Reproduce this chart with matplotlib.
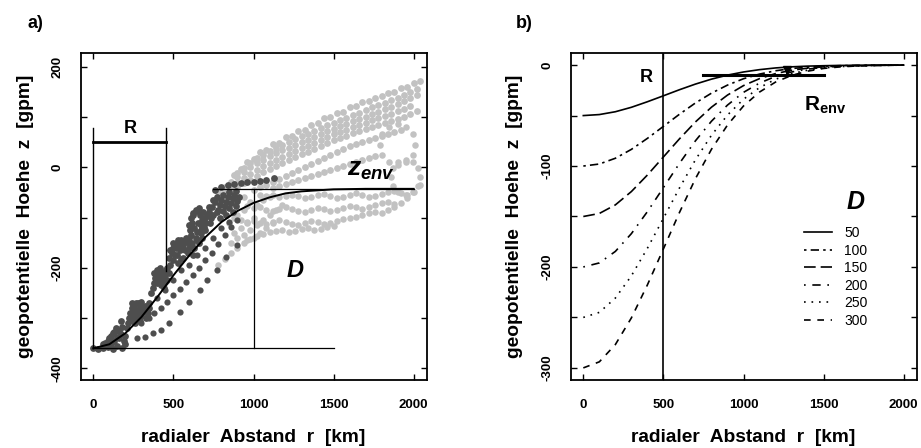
import matplotlib
matplotlib.use("Agg")
import matplotlib.pyplot as plt

plt.rcParams['font.family'] = ['Liberation Sans', 'DejaVu Sans']
plt.rcParams['mathtext.fontset'] = 'custom'
plt.rcParams['mathtext.rm'] = 'Liberation Sans'
plt.rcParams['mathtext.bf'] = 'Liberation Sans:bold'
plt.rcParams['mathtext.it'] = 'Liberation Sans:italic:bold'

# ---------------- panel a : beobachtete Punkte + Profil ----------------
# dunkle Punkte (innerer Bereich)
dark_band_r = [0, 30, 60, 90, 120, 150, 180, 200,
               70, 100, 120, 140, 150, 130, 160, 180, 170, 200, 210,
               230, 240, 250, 260, 270, 280, 290, 300, 310, 320, 250, 240, 280, 300, 330, 340, 350,
               360, 370, 380, 390, 400, 410, 420, 430, 440, 450, 460, 400, 380, 420, 440, 460,
               470, 490, 500, 510, 520, 540, 550, 560, 580, 600, 610, 630, 650, 670, 500, 530, 560, 590, 620,
               600, 610, 625, 645, 665, 680, 690, 670, 650, 630, 615, 700, 720, 700, 730,
               740, 760, 780, 800, 820, 840, 860, 880, 900, 750, 790, 830, 870,
               760, 800, 840, 880, 920, 960, 1000, 1040, 1080, 1130]
dark_band_z = [-360, -362, -360, -358, -362, -355, -360, -352,
               -350, -340, -330, -320, -338, -345, -325, -318, -305, -335, -320,
               -290, -280, -295, -285, -300, -290, -280, -295, -285, -275, -305, -270, -270, -268, -300, -290, -270,
               -250, -240, -230, -222, -215, -210, -220, -212, -208, -215, -225, -230, -210, -235, -240, -200,
               -180, -170, -160, -175, -150, -165, -145, -155, -140, -150, -135, -160, -145, -130, -185, -190, -180, -170, -175,
               -115, -100, -92, -88, -95, -105, -118, -125, -128, -120, -110, -100, -90, -125, -110,
               -80, -70, -85, -65, -78, -60, -72, -55, -68, -95, -100, -95, -90,
               -45, -40, -35, -33, -32, -30, -30, -28, -25, -22]
dark_fill_r = [220, 235, 255, 265, 275, 295, 305, 325, 345, 215, 260, 290,
               90, 110, 130, 160, 175, 190, 110, 60,
               385, 395, 405, 415, 425, 435, 445, 455, 470, 480,
               480, 495, 515, 530, 545, 570, 575, 595, 615, 640, 660, 680, 525, 545, 600,
               605, 620, 640, 660, 685, 695, 710, 725, 735, 655, 675,
               745, 770, 790, 810, 830, 850, 870, 890, 910, 770, 810, 850, 890]
dark_fill_z = [-300, -292, -275, -270, -283, -290, -278, -288, -280, -310, -310, -305,
               -345, -335, -328, -340, -332, -345, -352, -352,
               -220, -205, -225, -200, -230, -220, -228, -205, -210, -195,
               -165, -150, -160, -145, -155, -148, -165, -140, -150, -140, -150, -140, -175, -182, -160,
               -125, -95, -85, -82, -90, -110, -95, -80, -100, -110, -115,
               -65, -60, -75, -55, -70, -50, -62, -48, -60, -90, -88, -82, -78]
dark_track_r = [270, 320, 375, 420, 470, 540, 600, 665, 710, 770, 830, 895,
                380, 420, 460, 500, 540, 580, 620, 660, 700, 740, 780, 820, 860, 900,
                300, 350, 400, 450, 500, 550, 600, 650, 700, 750, 800, 850]
dark_track_z = [-340, -337, -330, -324, -309, -287, -267, -244, -224, -204, -178, -155,
                -290, -280, -268, -255, -242, -228, -215, -200, -185, -170, -152, -135, -118, -105,
                -310, -300, -260, -245, -225, -205, -195, -175, -160, -140, -120, -108]

# helle Punkte (aeusserer Bereich)
light_band_r = ([880 + 40 * i for i in range(30)] + [820 + 40 * i for i in range(31)]
                + [780 + 40 * i for i in range(32)] + [1000 + 40 * i for i in range(24)]
                + [900 + 40 * i for i in range(29)] + [900 + 40 * i for i in range(28)]
                + [1120 + 40 * i for i in range(17)])
light_band_z = [-15, -4, 10, 16, 30, 34, 46, 48, 60, 62, 72, 74, 84, 88, 97, 99, 108, 109, 119, 121,
                129, 131, 138, 141, 147, 149, 157, 159, 167, 171,
                -40, -30, -20, -10, 0, 8, 14, 22, 28, 34, 38, 44, 50, 54, 60, 66, 72, 76, 82, 86,
                92, 96, 100, 106, 110, 115, 120, 126, 132, 138, 144,
                -50, -48, -45, -40, -32, -25, -18, -10, -4, 2, 8, 14, 20, 26, 30, 36, 42, 48, 54, 58,
                62, 68, 72, 76, 80, 84, 88, 92, 96, 100, 106, 112,
                -45, -40, -36, -30, -24, -18, -12, -6, 0, 6, 12, 18, 24, 30, 36, 42, 46, 50, 54, 58,
                62, 66, 70, 74,
                -12, -2, 8, 18, 24, 32, 38, 44, 50, 56, 62, 66, 72, 78, 84, 88, 94, 98, 104, 108,
                114, 120, 124, 128, 134, 138, 144, 150, 156,
                -32, -22, -13, -5, 2, 9, 15, 21, 26, 32, 38, 42, 48, 54, 60, 65, 70, 74, 80, 84,
                88, 93, 97, 101, 106, 111, 116, 122,
                -42, -38, -34, -30, -26, -22, -18, -14, -10, -6, -2, 2, 6, 10, 14, 18, 22]
light_low_r = ([1040 + 40 * i for i in range(24)] + [960 + 40 * i for i in range(24)]
               + [880 + 40 * i for i in range(23)] + [780 + 40 * i for i in range(19)]
               + [1800, 1840, 1880, 1920, 1960, 2000, 2040])
light_low_z = [-55, -58, -56, -60, -57, -55, -58, -62, -60, -56, -54, -58, -62, -60, -55, -52, -56, -60, -58, -54,
               -50, -48, -52, -56,
               -78, -82, -80, -85, -88, -84, -80, -83, -87, -90, -86, -82, -84, -88, -86, -82, -78, -80, -84, -80,
               -76, -72, -70, -74,
               -100, -104, -108, -106, -110, -112, -108, -104, -108, -112, -115, -110, -106, -108, -112, -110,
               -106, -102, -100, -98, -96, -92, -90,
               -195, -182, -170, -160, -150, -142, -136, -132, -128, -126, -124, -128, -126, -122, -120, -124,
               -122, -118, -116,
               -92, -86, -80, -72, -62, -50, -36]
light_mix_r = [920, 960, 1000, 940, 980, 1020, 1060, 900, 1100, 1140, 1180, 960, 1000, 1040, 1080, 1120,
               860, 880, 850, 900, 940, 980, 1020, 1060, 1100, 940, 880]
light_mix_z = [-120, -110, -100, -135, -125, -115, -105, -140, -95, -85, -75, -145, -140, -130, -120, -110,
               -150, -130, -110, -95, -85, -70, -75, -65, -60, -60, -70]
light_ring_r = [2010, 1995, 1955, 1900, 1845, 1805, 1790, 1805, 1845, 1900, 1955, 1995,
                2040, 2028, 1995, 1950, 1905, 1872, 1860, 1872, 1905, 1950, 1995, 2028]
light_ring_z = [45, 65, 80, 85, 80, 65, 45, 25, 10, 5, 10, 25,
                -20, -2, 10, 15, 10, -2, -20, -38, -50, -55, -50, -38]

# angepasstes Profil
prof_r = [0, 100, 200, 300, 400, 500, 600, 700, 800, 900, 1000,
          1100, 1200, 1300, 1400, 1500, 1600, 1700, 1800, 1900, 2000]
prof_z = [-360, -352, -330, -298, -258, -215, -175, -139, -109, -87, -71,
          -60, -52, -48, -46, -44, -43.5, -43, -43, -43, -43]
z_env = -43
z_min = -360
R_a = 455

# ---------------- panel b : Profile fuer verschiedene D ----------------
r_b = [0, 100, 200, 300, 400, 500, 600, 700, 800, 900, 1000,
       1100, 1200, 1300, 1400, 1500, 1600, 1700, 1800, 1900, 2000]
z_D50 = [-50, -49.0, -46.2, -41.8, -36.3, -30.4, -24.4, -18.8, -13.9, -9.9, -6.8,
         -4.5, -2.8, -1.7, -1.0, -0.6, -0.3, -0.2, -0.1, 0, 0]
z_D100 = [-100, -98, -92.3, -83.5, -72.6, -60.7, -48.7, -37.5, -27.8, -19.8, -13.5,
          -8.9, -5.6, -3.4, -2.0, -1.1, -0.6, -0.3, -0.2, -0.1, 0]
z_D150 = [-150, -147, -138.5, -125.3, -108.9, -91.0, -73.1, -56.3, -41.7, -29.7, -20.3,
          -13.4, -8.4, -5.1, -3.0, -1.7, -0.9, -0.5, -0.2, -0.1, 0]
z_D200 = [-200, -196, -184.6, -167, -145.2, -121.4, -97.4, -75, -55.6, -39.6, -27,
          -17.8, -11.2, -6.8, -4, -2.2, -1.2, -0.6, -0.3, -0.1, 0]
z_D250 = [-250, -245, -230.8, -208.8, -181.5, -151.8, -121.8, -93.8, -69.5, -49.5, -33.8,
          -22.3, -14, -8.5, -5, -2.8, -1.5, -0.8, -0.4, -0.2, 0]
z_D300 = [-300, -294, -276.9, -250.5, -217.8, -182.1, -146.1, -112.5, -83.4, -59.4, -40.5,
          -26.7, -16.8, -10.2, -6, -3.3, -1.8, -0.9, -0.5, -0.2, 0]
D_labels = ['50', '100', '150', '200', '250', '300']
D_styles = ['-', (0, (1.5, 2.5, 5, 2.5)), (0, (7, 3)), (0, (1, 4, 5, 4)), (0, (1, 3.5)), (0, (4, 4))]
R_b = 500
R_env_r = [750, 1500]
R_env_z = -10
R_env_mark = (1270, -5)

fig = plt.figure(figsize=(9.21, 4.48), dpi=100)
ax1 = fig.add_axes([80.5 / 921, 68 / 448, 346 / 921, 327 / 448])
ax2 = fig.add_axes([570.5 / 921, 68 / 448, 346 / 921, 327 / 448])


def style(ax, yticks, ylabs, ylab_x):
    ax.set_xlim(-80, 2080)
    ax.set_xticks([0, 500, 1000, 1500, 2000])
    ax.set_yticks(yticks)
    ax.set_yticklabels(ylabs)
    ax.tick_params(direction='in', length=4, width=1, top=True, right=True, labelsize=9.5)
    ax.tick_params(axis='x', pad=13.5)
    ax.tick_params(axis='y', pad=12.5)
    for s in ax.spines.values():
        s.set_linewidth(1.3)
    for lab in ax.get_xticklabels() + ax.get_yticklabels():
        lab.set_fontweight('bold')
    for lab in ax.get_yticklabels():
        lab.set_rotation(90)
        lab.set_va('center')
    ax.set_xlabel('radialer  Abstand  r  [km]', fontsize=13.8, fontweight='bold')
    ax.xaxis.set_label_coords(0.5, -(437 - 380) / 327)
    ax.xaxis.label.set_va('center')
    ax.set_ylabel('geopotentielle  Hoehe  z  [gpm]', fontsize=13.8, fontweight='bold')
    ax.yaxis.set_label_coords(ylab_x, 0.5)
    ax.yaxis.label.set_va('center')
    ax.yaxis.label.set_ha('center')


# panel a
light = '#c2c2c2'
dark = '#4e4e4e'
ax1.scatter(light_band_r, light_band_z, s=24, color=light, linewidths=0, zorder=1)
ax1.scatter(light_low_r, light_low_z, s=22, color=light, linewidths=0, zorder=1)
ax1.scatter(light_mix_r, light_mix_z, s=22, color=light, linewidths=0, zorder=1)
ax1.scatter(light_ring_r, light_ring_z, s=22, color=light, linewidths=0, zorder=1)
ax1.scatter(dark_track_r, dark_track_z, s=20, color=dark, linewidths=0, zorder=2)
ax1.scatter(dark_band_r, dark_band_z, s=24, color=dark, linewidths=0, zorder=2)
ax1.scatter(dark_fill_r, dark_fill_z, s=24, color=dark, linewidths=0, zorder=2)
ax1.plot(prof_r, prof_z, color='black', lw=1.4, zorder=4)
ax1.plot([750, 2000], [z_env, z_env], color='black', lw=0.9, zorder=3)
ax1.plot([1000, 1000], [z_env, z_min], color='black', lw=0.9, zorder=3)
ax1.plot([0, 1500], [z_min, z_min], color='black', lw=0.9, zorder=3)
ax1.plot([0, 0], [z_min, 77], color='black', lw=1.0, zorder=3)
ax1.plot([R_a, R_a], [77, -207], color='black', lw=1.0, zorder=3)
ax1.plot([0, R_a], [50, 50], color='black', lw=2.0, zorder=3)
ax1.text(230, 77, 'R', fontsize=13, fontweight='bold', ha='center', va='center')
ax1.text(1585, -5, r'$\mathit{z_{env}}$', fontsize=19, ha='left', va='center', zorder=5)
ax1.text(1260, -206, 'D', fontsize=17, fontweight='bold', style='italic', ha='center', va='center')
ax1.set_ylim(-423, 227)
style(ax1, [-400, -300, -200, -100, 0, 100, 200],
      ['-400', '', '-200', '', '0', '', '200'], -(80.5 - 25) / 346)

# panel b
for zz, lab, ls in zip([z_D50, z_D100, z_D150, z_D200, z_D250, z_D300], D_labels, D_styles):
    ax2.plot(r_b, zz, color='black', lw=1.2, linestyle=ls, label=lab)
ax2.axvline(R_b, color='black', lw=1.2)
ax2.plot(R_env_r, [R_env_z, R_env_z], color='black', lw=2.2)
ax2.plot([R_env_mark[0]], [R_env_mark[1]], marker='v', color='black', markersize=6)
ax2.text(396, -12, 'R', fontsize=13, fontweight='bold', ha='center', va='center')
ax2.text(1375, -40, r'$\mathbf{R_{env}}$', fontsize=15, ha='left', va='center')
ax2.text(1700, -136, 'D', fontsize=18, fontweight='bold', style='italic', ha='center', va='center')
ax2.legend(loc='upper left', bbox_to_anchor=(0.675, 0.47), frameon=False, fontsize=10,
           handlelength=2.0, handletextpad=0.9, labelspacing=0.25, borderpad=0, borderaxespad=0)
ax2.set_ylim(-312, 12)
style(ax2, [-300, -250, -200, -150, -100, -50, 0],
      ['-300', '', '-200', '', '-100', '', '0'], -(570.5 - 514) / 346)

fig.text(35 / 921, 1 - 23 / 448, 'a)', fontsize=13, fontweight='bold', ha='center', va='center')
fig.text(524 / 921, 1 - 23 / 448, 'b)', fontsize=13, fontweight='bold', ha='center', va='center')

fig.savefig('out.png', dpi=100)
